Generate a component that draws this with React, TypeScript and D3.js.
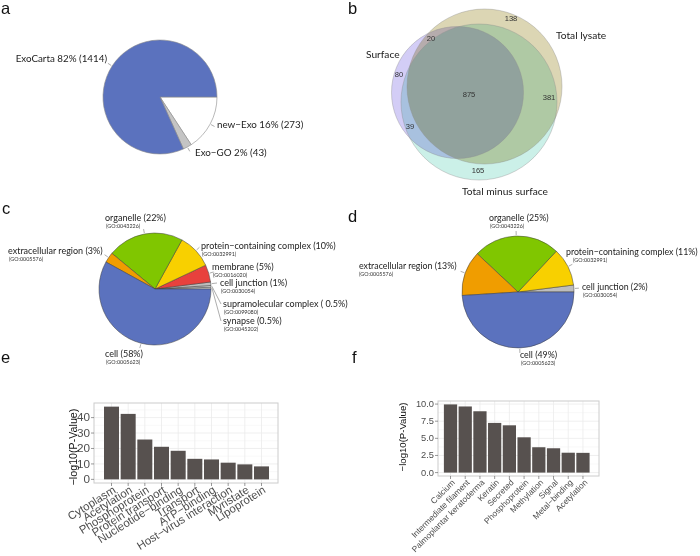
import React from "react";
import * as d3 from "d3";

// ---------------- data ----------------
const exoCategories = ["new−Exo", "Exo−GO", "ExoCarta"];
const exoPercents = [16, 2, 82];
const exoCounts = [273, 43, 1414];

const vennSets = ["Surface", "Total lysate", "Total minus surface"];
const vennRegions = ["Surface only", "Surface & Total lysate", "Surface & Total minus surface", "All three", "Total lysate only", "Total lysate & Total minus surface", "Total minus surface only"];
const vennCounts = [80, 20, 39, 875, 138, 381, 165];

const goCategoriesC = ["synapse", "supramolecular complex", "cell junction", "membrane", "protein−containing complex", "organelle", "extracellular region", "cell"];
const goPercentC = [0.5, 0.5, 1, 5, 10, 22, 3, 58];
const goPercentTextC = ["0.5%", " 0.5%", "1%", "5%", "10%", "22%", "3%", "58%"];
const goIdsC = ["GO:0045202", "GO:0099080", "GO:0030054", "GO:0016020", "GO:0032991", "GO:0043226", "GO:0005576", "GO:0005623"];

const goCategoriesD = ["cell junction", "protein−containing complex", "organelle", "extracellular region", "cell"];
const goPercentD = [2, 11, 25, 13, 49];
const goPercentTextD = ["2%", "11%", "25%", "13%", "49%"];
const goIdsD = ["GO:0030054", "GO:0032991", "GO:0043226", "GO:0005576", "GO:0005623"];

const keywordsE = ["Cytoplasm", "Acetylation", "Phosphoprotein", "Protein transport", "Nucleotide−binding", "Transport", "ATP−binding", "Host−virus interaction", "Myristate", "Lipoprotein"];
const valuesE = [47.1, 42.4, 25.8, 21.1, 18.5, 13.3, 12.9, 10.8, 9.7, 8.4];
const ticksE = [0, 10, 20, 30, 40];

const keywordsF = ["Calcium", "Intermediate filament", "Palmoplantar keratoderma", "Keratin", "Secreted", "Phosphoprotein", "Methylation", "Signal", "Metal−binding", "Acetylation"];
const valuesF = [9.95, 9.65, 8.95, 7.25, 6.9, 5.15, 3.7, 3.55, 2.9, 2.88];
const ticksF = [0, 2.5, 5, 7.5, 10];

// ---------------- styles ----------------
const exoColors = ["#ffffff", "#c4c4c4", "#5b72be"];
const goColors: Record<string, string> = {
  cell: "#5b72be",
  organelle: "#80c600",
  "protein−containing complex": "#f8d000",
  membrane: "#e8413d",
  "extracellular region": "#f09d00",
  "cell junction": "#bdbdbd",
  "supramolecular complex": "#d6d6d6",
  synapse: "#eeeeee",
};
const vennColors = ["#d3cdf6", "#dcd6b4", "#cbf0e8"];
const PIE_FONT = "Lato, 'Open Sans', sans-serif";
const BAR_FONT = "'Liberation Sans', Arial, sans-serif";

type Pt = [number, number];
const polar = (cx: number, cy: number, R: number, a: number): Pt => [cx + R * Math.sin(a), cy - R * Math.cos(a)];

// ---------------- panel a ----------------
function PanelA() {
  const cx = 160, cy = 97, r = 57;
  const arcs = d3.pie<number>().sort(null).value((d) => d).startAngle(Math.PI / 2).endAngle(Math.PI / 2 + 2 * Math.PI)(exoCounts);
  const arc = d3.arc<d3.PieArcDatum<number>>().innerRadius(0).outerRadius(r);
  const labelPos: { x: number; y: number; anchor: string }[] = [
    { x: 217, y: 128, anchor: "start" },
    { x: 195, y: 156, anchor: "start" },
    { x: 107, y: 62, anchor: "end" },
  ];
  return (
    <g>
      <g transform={`translate(${cx},${cy})`}>
        {arcs.map((a, i) => (
          <path key={i} d={arc(a) || ""} fill={exoColors[i]} stroke="#8a8a8a" strokeWidth={0.6} />
        ))}
      </g>
      {arcs.map((a, i) => {
        const m = (a.startAngle + a.endAngle) / 2;
        const p1 = polar(cx, cy, r + 1, m), p2 = polar(cx, cy, r + 5, m);
        return <line key={i} x1={p1[0]} y1={p1[1]} x2={p2[0]} y2={p2[1]} stroke="#777" strokeWidth={0.6} />;
      })}
      {exoCategories.map((c, i) => (
        <text key={c} x={labelPos[i].x} y={labelPos[i].y} textAnchor={labelPos[i].anchor as any} fontFamily={PIE_FONT} fontSize={9.8} fill="#222">
          {`${c} ${exoPercents[i]}% (${exoCounts[i]})`}
        </text>
      ))}
    </g>
  );
}

// ---------------- panel b ----------------
function PanelB() {
  const circles = [
    { cx: 457.5, cy: 92.5, r: 66 },
    { cx: 484.5, cy: 86.5, r: 77.5 },
    { cx: 479, cy: 102, r: 78 },
  ];
  const countPos: Pt[] = [
    [399, 74], [431, 38], [410, 126], [469, 94], [511, 18], [549, 97], [478, 170],
  ];
  const setLabelPos = [
    { x: 366, y: 58 },
    { x: 556, y: 39 },
    { x: 462, y: 195 },
  ];
  return (
    <g>
      <g style={{ isolation: "isolate" }}>
        {circles.map((c, i) => (
          <circle key={i} cx={c.cx} cy={c.cy} r={c.r} fill={vennColors[i]} style={{ mixBlendMode: "multiply" }} />
        ))}
      </g>
      {circles.map((c, i) => (
        <circle key={"s" + i} cx={c.cx} cy={c.cy} r={c.r} fill="none" stroke="#8d8d8d" strokeOpacity={0.55} strokeWidth={0.7} />
      ))}
      {vennCounts.map((v, i) => (
        <text key={vennRegions[i]} x={countPos[i][0]} y={countPos[i][1]} textAnchor="middle" dominantBaseline="central" fontFamily={BAR_FONT} fontSize={7.6} fill="#333">
          {v}
        </text>
      ))}
      {vennSets.map((s, i) => (
        <text key={s} x={setLabelPos[i].x} y={setLabelPos[i].y} fontFamily={PIE_FONT} fontSize={10.2} fill="#222">
          {s}
        </text>
      ))}
    </g>
  );
}

// ---------------- GO pies (c, d) ----------------
type LabelLayout = { x: number; y: number; gdx?: number; lead?: Pt };
function GoPie(props: { cats: string[]; pcts: number[]; pctText: string[]; ids: string[]; cx: number; cy: number; r: number; fs: number; layout: LabelLayout[] }) {
  const { cats, pcts, pctText, ids, cx, cy, r, layout, fs } = props;
  const arcs = d3.pie<number>().sort(null).value((d) => d).startAngle(Math.PI / 2).endAngle(Math.PI / 2 - 2 * Math.PI)(pcts);
  const arc = d3.arc<d3.PieArcDatum<number>>().innerRadius(0).outerRadius(r);
  return (
    <g>
      <g transform={`translate(${cx},${cy})`}>
        {arcs.map((a, i) => (
          <path key={i} d={arc(a) || ""} fill={goColors[cats[i]]} stroke="#3c3c3c" strokeWidth={0.5} />
        ))}
      </g>
      {arcs.map((a, i) => {
        const m = (a.startAngle + a.endAngle) / 2;
        const p1 = polar(cx, cy, r + 1, m);
        const p2 = layout[i].lead || polar(cx, cy, r + 5, m);
        return <line key={"l" + i} x1={p1[0]} y1={p1[1]} x2={p2[0]} y2={p2[1]} stroke="#777" strokeWidth={0.6} />;
      })}
      {cats.map((c, i) => (
        <g key={c} fontFamily={PIE_FONT}>
          <text x={layout[i].x} y={layout[i].y} fontSize={fs} fill="#222">{`${c} (${pctText[i]})`}</text>
          <text x={layout[i].x + (layout[i].gdx ?? 1)} y={layout[i].y + 7.3} fontSize={5.4} fill="#333">{`(${ids[i]})`}</text>
        </g>
      ))}
    </g>
  );
}

// ---------------- bar panels (e, f) ----------------
function BarPanel(props: {
  cats: string[]; vals: number[]; ticks: number[]; fmt: (v: number) => string;
  x0: number; x1: number; y0: number; y1: number; padL: number; padR: number;
  titleX: number; titleY: number; titleFs: number; tickFs: number; tickSx: number;
  labFs: number; labAngle: number; labDx: number; labDy: number;
}) {
  const p = props;
  const max = d3.max(p.vals) as number;
  const y = d3.scaleLinear().domain([-0.05 * max, 1.05 * max]).range([p.y1, p.y0]);
  const x = d3.scaleLinear().domain([-p.padL, p.cats.length - 1 + p.padR]).range([p.x0, p.x1]);
  const step = x(1) - x(0);
  const bw = step * 0.9;
  const half = (p.ticks[1] - p.ticks[0]) / 2;
  const minor = [p.ticks[0] - half, ...p.ticks.map((t) => t + half)].filter((t) => t > y.domain()[0] && t < y.domain()[1]);
  return (
    <g fontFamily={BAR_FONT}>
      <rect x={p.x0} y={p.y0} width={p.x1 - p.x0} height={p.y1 - p.y0} fill="#fff" />
      {minor.map((t) => (
        <line key={"mn" + t} x1={p.x0} x2={p.x1} y1={y(t)} y2={y(t)} stroke="#f3f3f3" strokeWidth={0.5} />
      ))}
      {p.ticks.map((t) => (
        <line key={"mj" + t} x1={p.x0} x2={p.x1} y1={y(t)} y2={y(t)} stroke="#ebebeb" strokeWidth={0.8} />
      ))}
      {p.cats.map((c, i) => (
        <line key={"v" + c} x1={x(i)} x2={x(i)} y1={p.y0} y2={p.y1} stroke="#ebebeb" strokeWidth={0.8} />
      ))}
      {p.vals.map((v, i) => (
        <rect key={"b" + i} x={x(i) - bw / 2} y={y(v)} width={bw} height={y(0) - y(v)} fill="#57514f" />
      ))}
      <rect x={p.x0} y={p.y0} width={p.x1 - p.x0} height={p.y1 - p.y0} fill="none" stroke="#cccccc" strokeWidth={1} />
      {p.ticks.map((t) => (
        <g key={"yt" + t}>
          <line x1={p.x0 - 3} x2={p.x0} y1={y(t)} y2={y(t)} stroke="#555" strokeWidth={0.6} />
          <text transform={`translate(${p.x0 - 4},${y(t)}) scale(${p.tickSx},1)`} textAnchor="end" dominantBaseline="central" fontSize={p.tickFs} fill="#4d4d4d">
            {p.fmt(t)}
          </text>
        </g>
      ))}
      {p.cats.map((c, i) => (
        <g key={"xt" + c}>
          <line x1={x(i)} x2={x(i)} y1={p.y1} y2={p.y1 + 3} stroke="#555" strokeWidth={0.6} />
          <text transform={`translate(${x(i) + p.labDx},${p.y1 + p.labDy}) rotate(${-p.labAngle})`} textAnchor="end" fontSize={p.labFs} fill="#4d4d4d">
            {c}
          </text>
        </g>
      ))}
      <text transform={`translate(${p.titleX},${p.titleY}) rotate(-90)`} textAnchor="middle" fontSize={p.titleFs} fill="#111">
        −log10(P-Value)
      </text>
    </g>
  );
}

export default function App() {
  const layoutC: LabelLayout[] = [
    { x: 223, y: 324, lead: [221, 321] },
    { x: 223, y: 307, lead: [221, 304] },
    { x: 220, y: 286, lead: [217, 283] },
    { x: 212, y: 270 },
    { x: 201, y: 249 },
    { x: 105, y: 221 },
    { x: 8, y: 254 },
    { x: 105, y: 357 },
  ];
  const layoutD: LabelLayout[] = [
    { x: 582, y: 290 },
    { x: 566, y: 255, gdx: 7 },
    { x: 489, y: 221 },
    { x: 359, y: 269, gdx: 0 },
    { x: 520, y: 358 },
  ];
  const letter = (t: string, x: number, y: number) => (
    <text x={x} y={y} fontFamily={BAR_FONT} fontSize={16.5} fill="#111">{t}</text>
  );
  return (
    <svg width={700} height={556} viewBox="0 0 700 556" style={{ position: "absolute", left: 0, top: 0, background: "#fff" }}>
      <rect width={700} height={556} fill="#fff" />
      {letter("a", 1, 14)}
      {letter("b", 348, 14)}
      {letter("c", 2, 214)}
      {letter("d", 348, 222)}
      {letter("e", 1, 363)}
      {letter("f", 352, 363)}
      <PanelA />
      <PanelB />
      <GoPie cats={goCategoriesC} pcts={goPercentC} pctText={goPercentTextC} ids={goIdsC} cx={155} cy={289} r={56} fs={9} layout={layoutC} />
      <GoPie cats={goCategoriesD} pcts={goPercentD} pctText={goPercentTextD} ids={goIdsD} cx={518} cy={292} r={56} fs={8.8} layout={layoutD} />
      <BarPanel cats={keywordsE} vals={valuesE} ticks={ticksE} fmt={(v) => String(v)}
        x0={94} x1={278} y0={403} y1={483} padL={1.05} padR={0.99}
        titleX={77} titleY={447} titleFs={10.7} tickFs={10.2} tickSx={1.15}
        labFs={11.4} labAngle={32} labDx={5} labDy={9} />
      <BarPanel cats={keywordsF} vals={valuesF} ticks={ticksF} fmt={(v) => v.toFixed(1)}
        x0={438} x1={599} y0={401} y1={476} padL={0.85} padR={1.09}
        titleX={406} titleY={437} titleFs={9.6} tickFs={9.3} tickSx={1}
        labFs={8.4} labAngle={45} labDx={5} labDy={7} />
    </svg>
  );
}
